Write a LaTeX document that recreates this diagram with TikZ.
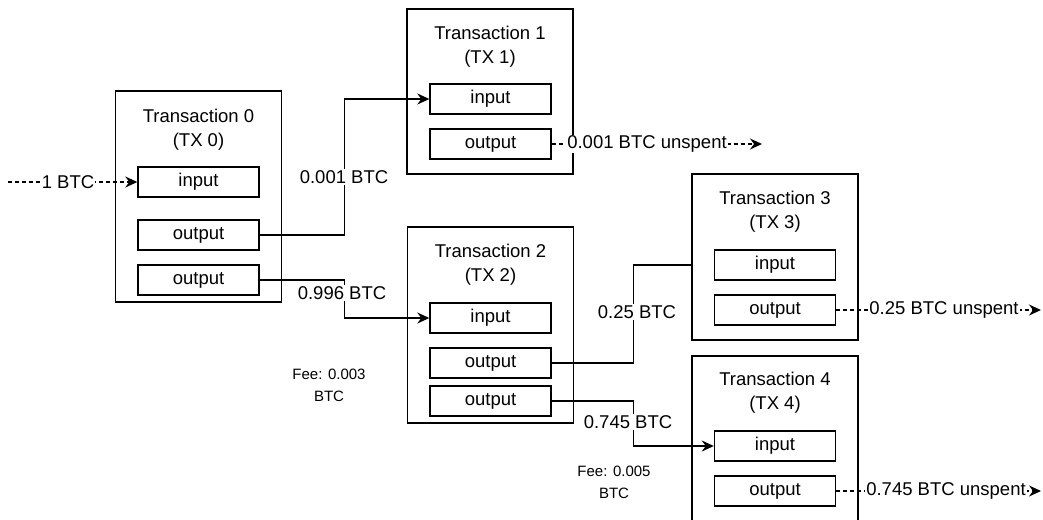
\documentclass[tikz,border=0pt]{standalone}
\usepackage{fontspec}
\setmainfont{Liberation Sans}
\usetikzlibrary{arrows.meta}
\begin{document}
\begin{tikzpicture}[x=1pt,y=-1pt,
  line width=1.4pt,
  txbox/.style={draw, rectangle, minimum width=166pt, inner sep=0pt},
  part/.style={draw, rectangle, minimum width=121pt, minimum height=30pt, inner sep=0pt, font=\fontsize{18.5}{22}\selectfont},
  title/.style={align=center, inner sep=0pt, font=\fontsize{18.5}{24}\selectfont},
  lbl/.style={fill=white, inner sep=1pt, font=\fontsize{18.5}{22}\selectfont},
  fee/.style={align=center, inner sep=0pt, font=\fontsize{15}{22}\selectfont},
  arr/.style={-{Stealth[length=12pt,width=11pt,inset=4pt]}},
  dsh/.style={dash pattern=on 4pt off 3pt}
]
\clip (0,0) rectangle (1043,519);
\fill[white] (0,0) rectangle (1043,519);

% Transaction boxes
\node[txbox, minimum height=211pt] (tx0) at (198.5,196.5) {};
\node[txbox, minimum height=165pt] (tx1) at (490,91.5) {};
\node[txbox, minimum height=196pt] (tx2) at (490.5,325) {};
\node[txbox, minimum height=166pt] (tx3) at (775,257) {};
\node[txbox, minimum height=180pt] (tx4) at (775,446) {};

% Titles
\node[title] (tx0t) at (198.5,130) {Transaction 0\\(TX 0)};
\node[title] (tx1t) at (490,47) {Transaction 1\\(TX 1)};
\node[title] (tx2t) at (490.5,265) {Transaction 2\\(TX 2)};
\node[title] (tx3t) at (775,212) {Transaction 3\\(TX 3)};
\node[title] (tx4t) at (775,393) {Transaction 4\\(TX 4)};

% Inputs / outputs
\node[part] (tx0in) at (198.5,182) {input};
\node[part] (tx0o1) at (198.5,235) {output};
\node[part] (tx0o2) at (198.5,280) {output};
\node[part] (tx1in) at (490.5,99) {input};
\node[part] (tx1o) at (490.5,144) {output};
\node[part] (tx2in) at (490.5,318) {input};
\node[part] (tx2o1) at (490.5,363) {output};
\node[part] (tx2o2) at (490.5,401) {output};
\node[part] (tx3in) at (775,265) {input};
\node[part] (tx3o) at (775,310) {output};
\node[part] (tx4in) at (775,446) {input};
\node[part] (tx4o) at (775,491) {output};

% Free ends
\coordinate (start) at (8,182);
\coordinate (end1) at (762,144);
\coordinate (end3) at (1041,310);
\coordinate (end4) at (1041,491);

% Connectors
\draw[dsh, arr] (start) -- (tx0in.west);
\draw[arr] (tx0o1.east) -- ++(85,0) |- (tx1in.west);
\draw[arr] (tx0o2.east) -- ++(85,0) |- (tx2in.west);
\draw (tx2o1.east) -- ++(82,0) |- (tx3.west |- tx3in.west);
\draw[arr] (tx2o2.east) -- ++(82,0) |- (tx4in.west);
\draw[dsh, arr] (tx1o.east) -- (end1);
\draw[dsh, arr] (tx3o.east) -- (end3);
\draw[dsh, arr] (tx4o.east) -- (end4);

% Labels
\node[lbl] (l0) at (68,182) {1 BTC};
\node[lbl] (l1) at (344,177) {0.001 BTC};
\node[lbl] (l2) at (342,293) {0.996 BTC};
\node[lbl] (l3) at (637,312) {0.25 BTC};
\node[lbl] (l4) at (628,422) {0.745 BTC};
\node[lbl] (l5) at (647,144) {0.001 BTC unspent};
\node[lbl] (l6) at (944,310) {0.25 BTC unspent};
\node[lbl] (l7) at (946,491) {0.745 BTC unspent};

\node[fee] (fee1) at (329,385) {Fee: 0.003\\BTC};
\node[fee] (fee2) at (614,482) {Fee: 0.005\\BTC};
\end{tikzpicture}
\end{document}
